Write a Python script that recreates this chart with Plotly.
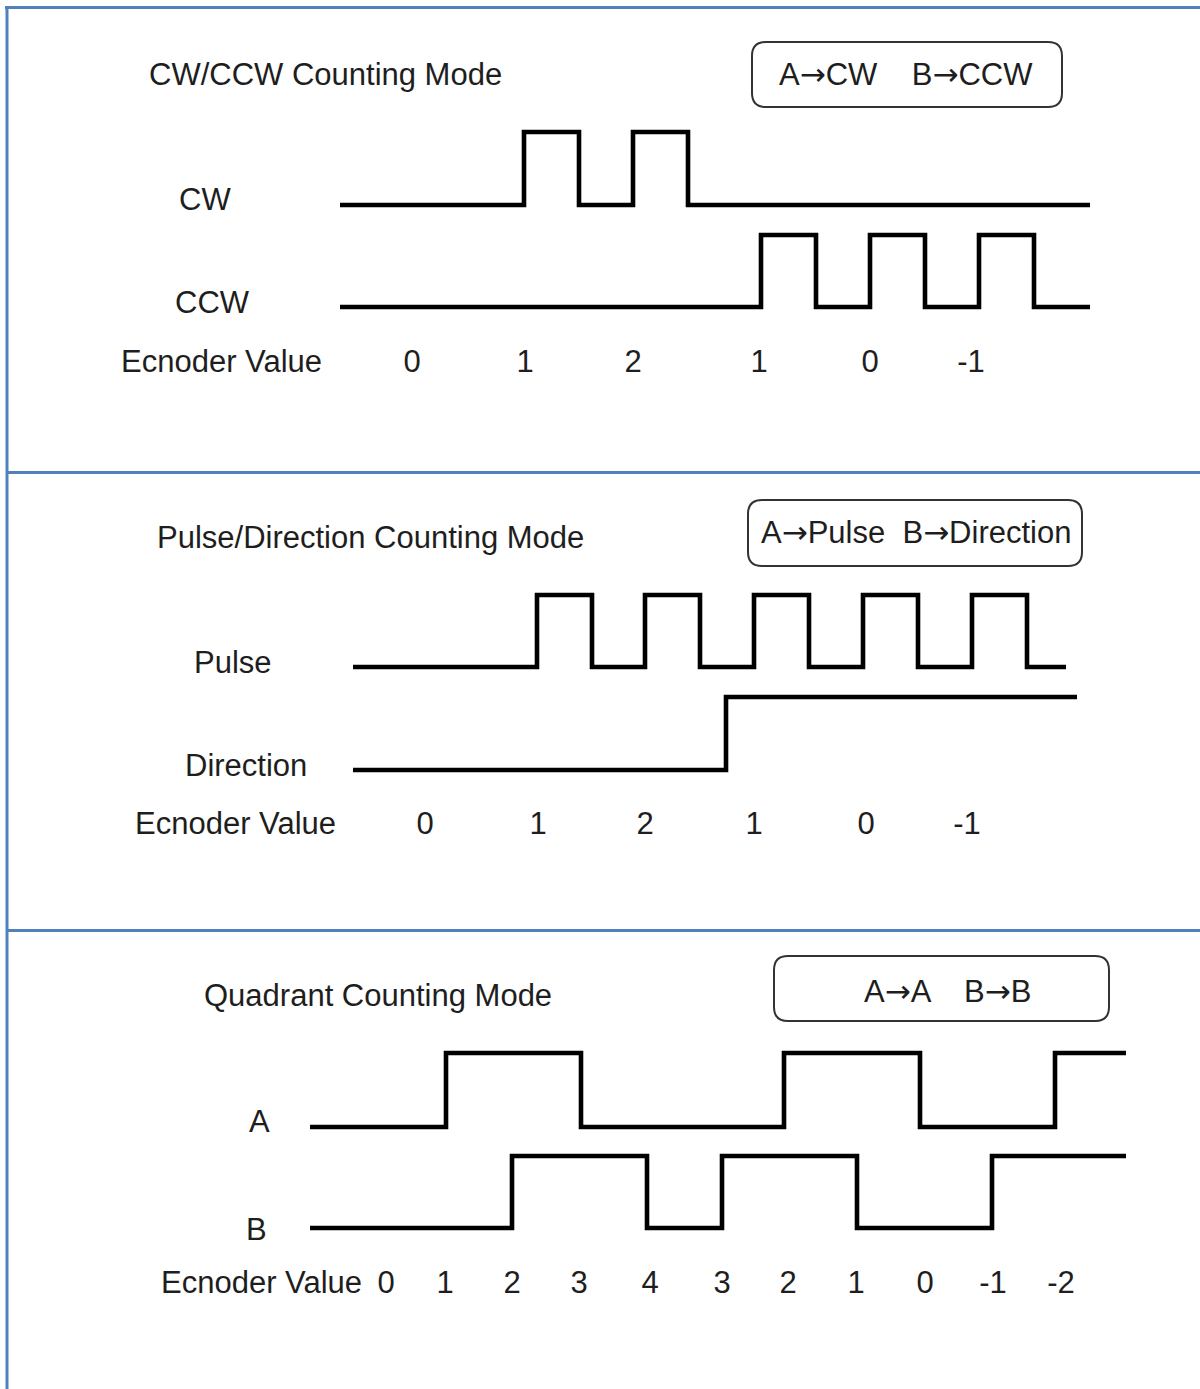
import plotly.graph_objects as go

# ---------------- data (time axis = horizontal position of each edge) ----------------
# Panel 1: CW/CCW counting mode
cw_edges = [340, 524, 579, 633, 688, 1090]
cw_start = 0
ccw_edges = [340, 761, 816, 870, 925, 979, 1034, 1090]
ccw_start = 0
p1_value_pos = [412, 525, 633, 759, 870, 971]
p1_value_labels = ["0", "1", "2", "1", "0", "-1"]

# Panel 2: Pulse/Direction counting mode
pulse_edges = [353, 537, 592, 645, 700, 754, 809, 863, 918, 972, 1027, 1066]
pulse_start = 0
dir_edges = [353, 726, 1077]
dir_start = 0
p2_value_pos = [425, 538, 645, 754, 866, 967]
p2_value_labels = ["0", "1", "2", "1", "0", "-1"]

# Panel 3: Quadrant counting mode
a_edges = [310, 446, 581, 784, 920, 1055, 1126]
a_start = 0
b_edges = [310, 512, 647, 722, 857, 992, 1126]
b_start = 0
p3_value_pos = [386, 445, 512, 579, 650, 722, 788, 856, 925, 993, 1061]
p3_value_labels = ["0", "1", "2", "3", "4", "3", "2", "1", "0", "-1", "-2"]

titles = ["CW/CCW Counting Mode", "Pulse/Direction Counting Mode", "Quadrant Counting Mode"]
ARW = "<span style='font-family:DejaVu Sans'>\u2192</span>"
box_texts = [f"A{ARW}CW    B{ARW}CCW", f"A{ARW}Pulse  B{ARW}Direction", f"A{ARW}A    B{ARW}B"]
signal_names = [["CW", "CCW"], ["Pulse", "Direction"], ["A", "B"]]
value_row_name = "Ecnoder Value"

# ---------------- layout / style ----------------
W, H = 1200, 1389
FONT = "Liberation Sans, Arial, sans-serif"
TXT = "#1e1e1e"
BLUE = "#4F81BD"
FS = 31
VAL_DY = 3  # text-trace vertical nudge

rows = [
    {"sig": [(cw_edges, cw_start, 205, 132), (ccw_edges, ccw_start, 307, 235)],
     "labels": [(205, 199), (212, 302)], "ev": (221, 361), "vals": (p1_value_pos, p1_value_labels),
     "title": (147, 74), "box": (752, 1062, 42, 107), "boxtext": (906, 74)},
    {"sig": [(pulse_edges, pulse_start, 667, 595), (dir_edges, dir_start, 770, 697)],
     "labels": [(233, 662), (246, 765)], "ev": (235, 823), "vals": (p2_value_pos, p2_value_labels),
     "title": (155, 537), "box": (748, 1082, 500, 566), "boxtext": (916, 532)},
    {"sig": [(a_edges, a_start, 1127, 1053), (b_edges, b_start, 1228, 1156)],
     "labels": [(259, 1121), (256, 1229)], "ev": (261, 1282), "vals": (p3_value_pos, p3_value_labels),
     "title": (202, 995), "box": (774, 1109, 956, 1021), "boxtext": (947, 991)},
]

fig = go.Figure()
annotations = []
shapes = []

for pi, row in enumerate(rows):
    for si, (edges, start, y_low, y_high) in enumerate(row["sig"]):
        levels = []
        lvl = start
        for k in range(len(edges) - 1):
            levels.append(lvl)
            lvl = 1 - lvl
        levels.append(levels[-1])
        ys = [y_low + (y_high - y_low) * v for v in levels]
        fig.add_trace(go.Scatter(x=edges, y=ys, mode="lines", line_shape="hv",
                                 line=dict(color="black", width=4.6),
                                 hoverinfo="skip", showlegend=False))
        lx, ly = row["labels"][si]
        annotations.append(dict(x=lx, y=ly, text=signal_names[pi][si], showarrow=False,
                                xanchor="center", yanchor="middle",
                                font=dict(family=FONT, size=FS, color=TXT)))
    vpos, vlab = row["vals"]
    evx, evy = row["ev"]
    fig.add_trace(go.Scatter(x=vpos, y=[evy + VAL_DY] * len(vpos), mode="text", text=vlab,
                             textposition="middle center",
                             textfont=dict(family=FONT, size=FS, color=TXT),
                             hoverinfo="skip", showlegend=False))
    annotations.append(dict(x=evx, y=evy, text=value_row_name, showarrow=False,
                            xanchor="center", yanchor="middle",
                            font=dict(family=FONT, size=FS, color=TXT)))
    tx, ty = row["title"]
    annotations.append(dict(x=tx, y=ty, text=titles[pi], showarrow=False,
                            xanchor="left", yanchor="middle",
                            font=dict(family=FONT, size=FS, color=TXT)))
    x0, x1, y0, y1 = row["box"]
    r = 14
    path = (f"M {x0 + r},{y0} L {x1 - r},{y0} Q {x1},{y0} {x1},{y0 + r} "
            f"L {x1},{y1 - r} Q {x1},{y1} {x1 - r},{y1} L {x0 + r},{y1} "
            f"Q {x0},{y1} {x0},{y1 - r} L {x0},{y0 + r} Q {x0},{y0} {x0 + r},{y0} Z")
    shapes.append(dict(type="path", path=path, xref="x", yref="y",
                       line=dict(color="#333333", width=2), fillcolor="rgba(0,0,0,0)"))
    bx, by = row["boxtext"]
    annotations.append(dict(x=bx, y=by, text=box_texts[pi], showarrow=False,
                            xanchor="center", yanchor="middle",
                            font=dict(family=FONT, size=FS, color=TXT)))

for (xa, ya, xb, yb) in [(5, 7.5, 1200, 7.5), (7, 6, 7, 1389), (7, 472.5, 1200, 472.5), (7, 930.5, 1200, 930.5)]:
    shapes.append(dict(type="line", x0=xa, y0=ya, x1=xb, y1=yb, xref="x", yref="y",
                       line=dict(color=BLUE, width=3)))

fig.update_layout(
    width=W, height=H, margin=dict(l=0, r=0, t=0, b=0),
    paper_bgcolor="white", plot_bgcolor="white",
    xaxis=dict(range=[0, W], visible=False, fixedrange=True),
    yaxis=dict(range=[H, 0], visible=False, fixedrange=True),
    annotations=annotations, shapes=shapes,
)

fig.write_html("out.html", config={"displayModeBar": False},
               post_script="document.body.style.margin='0px';document.body.style.overflow='hidden';")
